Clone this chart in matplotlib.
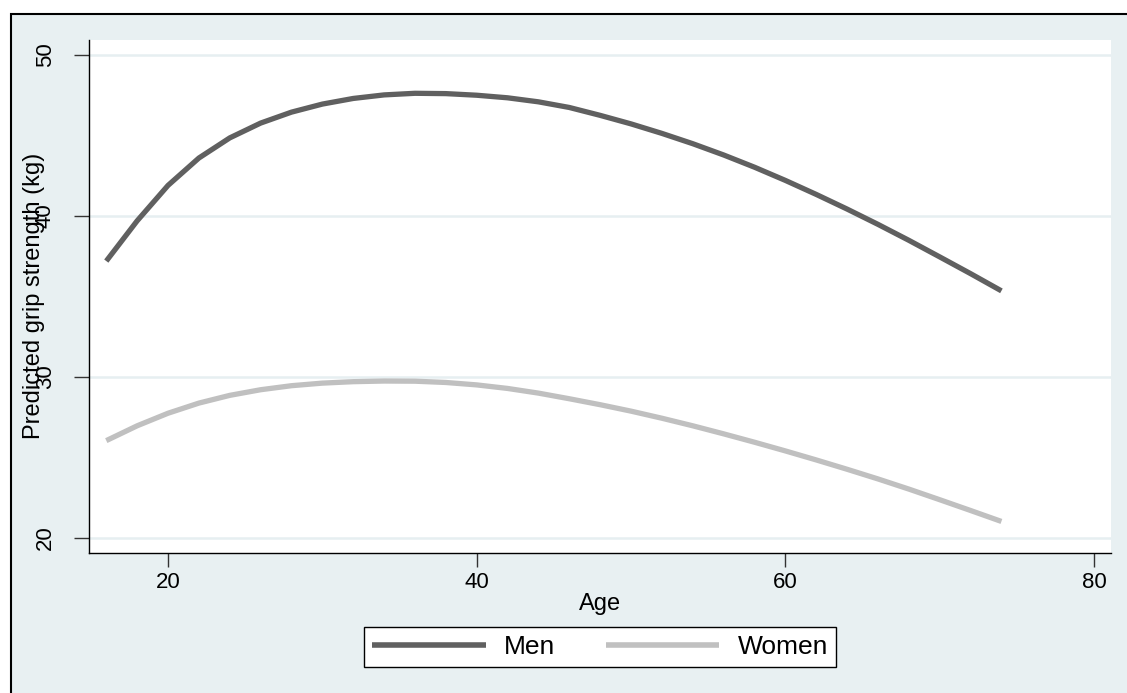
import matplotlib
matplotlib.use("Agg")
import matplotlib.pyplot as plt
from matplotlib.patches import Rectangle

# predicted grip strength by age
ages = [16, 18, 20, 22, 24, 26, 28, 30, 32, 34, 36, 38, 40, 42, 44,
        46, 48, 50, 52, 54, 56, 58, 60, 62, 64, 66, 68, 70, 72, 74]
men = [37.2, 39.7, 41.9, 43.6, 44.85, 45.77, 46.45, 46.95, 47.3, 47.52,
       47.62, 47.6, 47.5, 47.34, 47.09, 46.74, 46.25, 45.72, 45.13, 44.49,
       43.79, 43.03, 42.21, 41.34, 40.43, 39.48, 38.49, 37.46, 36.42, 35.35]
women = [26.05, 26.97, 27.75, 28.38, 28.86, 29.21, 29.46, 29.62, 29.71, 29.75,
         29.74, 29.66, 29.51, 29.29, 29.0, 28.65, 28.28, 27.88, 27.44, 26.97,
         26.47, 25.95, 25.41, 24.85, 24.27, 23.67, 23.04, 22.38, 21.71, 21.03]

xticks = [20, 40, 60, 80]
yticks = [20, 30, 40, 50]

plt.rcParams['font.family'] = ['Liberation Sans', 'DejaVu Sans']

W, H = 1127, 693
bg = '#E8F0F2'
fig = plt.figure(figsize=(W / 100, H / 100), dpi=100, facecolor='white')

# outer graph region with black frame
fig.patches.append(Rectangle((11 / W, -0.1), 1.2, 1 - 14 / H + 0.1,
                             transform=fig.transFigure, facecolor=bg,
                             edgecolor='black', linewidth=1.5, zorder=-5))

ax = fig.add_axes([89 / W, (H - 553) / H, 1022 / W, 513 / H])
ax.set_facecolor('white')

ax.plot(ages, men, color='#606060', lw=3.8, label='Men', solid_capstyle='butt')
ax.plot(ages, women, color='#C0C0C0', lw=3.8, label='Women', solid_capstyle='butt')

ax.set_xlim(14.88, 81.1)
ax.set_ylim(19.07, 50.93)
ax.set_xticks(xticks)
ax.set_yticks(yticks)
ax.grid(axis='y', color='#E6EFF1', lw=1.8)
ax.set_axisbelow(True)

for s in ['top', 'right']:
    ax.spines[s].set_visible(False)
for s in ['left', 'bottom']:
    ax.spines[s].set_linewidth(1.0)
    ax.spines[s].set_color('black')

ax.tick_params(axis='x', length=10, width=1, labelsize=16, pad=4, color='#333333')
ax.tick_params(axis='y', length=11, width=1, labelsize=16, pad=13, color='#333333')
for lab in ax.get_yticklabels():
    lab.set_rotation(90)
    lab.set_va('center')

ax.set_xlabel('Age', fontsize=17, labelpad=0)
fig.text(34 / W, 1 - 296 / H, 'Predicted grip strength (kg)', rotation=90,
         ha='center', va='center', fontsize=17)

leg = fig.legend(loc='center', bbox_to_anchor=(600 / W, 1 - 647 / H), ncol=2,
                 fontsize=19, frameon=True, fancybox=False, edgecolor='black',
                 framealpha=1, handlelength=4.3, handletextpad=0.7,
                 columnspacing=1.9, borderpad=0.3)
leg.get_frame().set_linewidth(1.0)
for line in leg.get_lines():
    line.set_linewidth(4)

fig.savefig('out.png', dpi=100, facecolor='white')
